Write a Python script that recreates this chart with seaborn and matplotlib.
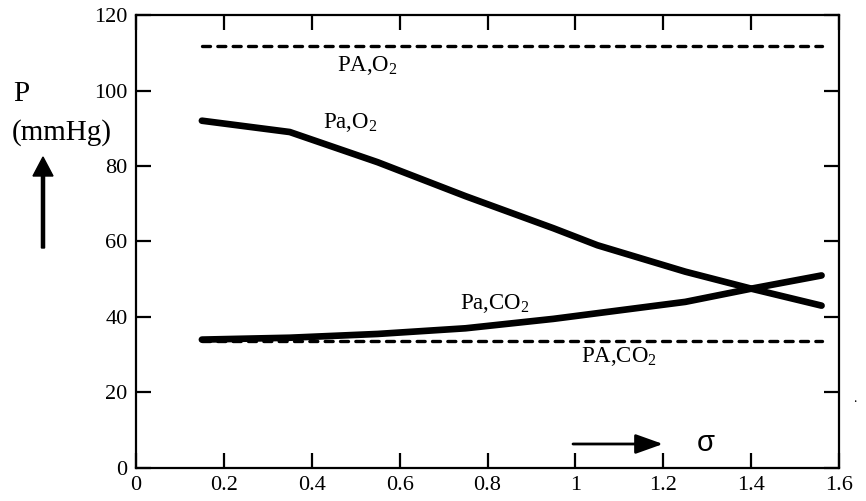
import matplotlib
matplotlib.use("Agg")
import matplotlib.pyplot as plt
import seaborn as sns
import pandas as pd

# Data
sigma_pao2 = [0.15, 0.35, 0.55, 0.75, 0.95, 1.05, 1.25, 1.40, 1.56]
pa_o2 = [92, 89, 81, 72, 63.5, 59, 52, 47.5, 43]
sigma_paco2 = [0.15, 0.35, 0.55, 0.75, 0.95, 1.15, 1.25, 1.40, 1.56]
pa_co2 = [34, 34.5, 35.5, 37, 39.5, 42.5, 44, 47.5, 51]
sigma_alv = [0.15, 1.56]
PA_o2 = [111.8, 111.8]
PA_co2 = [33.5, 33.5]
xticks = [0, 0.2, 0.4, 0.6, 0.8, 1, 1.2, 1.4, 1.6]
xticklabels = ["0", "0.2", "0.4", "0.6", "0.8", "1", "1.2", "1.4", "1.6"]
yticks = [0, 20, 40, 60, 80, 100, 120]

sns.set_theme(style="ticks")
plt.rcParams['font.family'] = ['Liberation Serif', 'DejaVu Serif']
plt.rcParams['text.color'] = 'black'
plt.rcParams['mathtext.fontset'] = 'custom'
plt.rcParams['mathtext.rm'] = 'Liberation Serif'
plt.rcParams['mathtext.it'] = 'Liberation Serif:italic'

fig = plt.figure(figsize=(8.66, 5.01), dpi=100)
ax = fig.add_axes([0.157, 0.066, 0.812, 0.904])

df_o2 = pd.DataFrame({"x": sigma_pao2, "y": pa_o2})
df_co2 = pd.DataFrame({"x": sigma_paco2, "y": pa_co2})
df_Ao2 = pd.DataFrame({"x": sigma_alv, "y": PA_o2})
df_Aco2 = pd.DataFrame({"x": sigma_alv, "y": PA_co2})

sns.lineplot(data=df_o2, x="x", y="y", ax=ax, color="black", lw=4.8,
             solid_capstyle="round", sort=False)
sns.lineplot(data=df_co2, x="x", y="y", ax=ax, color="black", lw=4.8,
             solid_capstyle="round", sort=False)
for d in (df_Ao2, df_Aco2):
    sns.lineplot(data=d, x="x", y="y", ax=ax, color="black", lw=2.4, sort=False)
for line in ax.lines[2:]:
    line.set_dashes([2.4, 2.2])
    line.set_dash_capstyle("round")

ax.set_xlim(0, 1.6)
ax.set_ylim(0, 120)
ax.set_xticks(xticks)
ax.set_xticklabels(xticklabels)
ax.set_yticks(yticks)
ax.set_xlabel("")
ax.set_ylabel("")
for s in ax.spines.values():
    s.set_visible(True)
    s.set_linewidth(1.6)
    s.set_color("black")
ax.tick_params(direction="in", length=11, width=1.6, color="black",
               labelsize=16, top=True, right=True, labelcolor="black")
ax.tick_params(axis="x", pad=6)
ax.tick_params(axis="y", pad=6)
for lab in ax.get_xticklabels() + ax.get_yticklabels():
    lab.set_fontfamily("Liberation Serif")

tfs = 16.5
ax.text(0.457, 106.5, r"$\mathrm{PA{,}O_2}$", fontsize=tfs, ha="left", va="center")
ax.text(0.425, 91.5, r"$\mathrm{Pa{,}O_2}$", fontsize=tfs, ha="left", va="center")
ax.text(0.738, 43.5, r"$\mathrm{Pa{,}CO_2}$", fontsize=tfs, ha="left", va="center")
ax.text(1.013, 29.5, r"$\mathrm{PA{,}CO_2}$", fontsize=tfs, ha="left", va="center")

# axis labels outside
fig.text(13/866, 1 - 94/501, "P", fontsize=21, ha="left", va="center")
fig.text(12/866, 1 - 133/501, "(mmHg)", fontsize=21, ha="left", va="center")
fig.patches.append(matplotlib.patches.FancyArrow(
    43/866, 1 - 248/501, 0, (248-157)/501, width=1.8/501, head_width=20/866,
    head_length=19/501, length_includes_head=True, color="black",
    transform=fig.transFigure, figure=fig))
ax.annotate("", xy=(663/866, 1 - 444/501), xytext=(573/866, 1 - 444/501),
            xycoords="figure fraction", textcoords="figure fraction",
            arrowprops=dict(arrowstyle="-|>,head_length=1.4,head_width=0.5",
                            lw=2, color="black", shrinkA=0, shrinkB=0))
fig.text(706/866, 1 - 443/501, "σ", fontsize=21, ha="center", va="center",
         family="Liberation Sans")
fig.text(855/866, 1 - 398/501, ".", fontsize=10, ha="center", va="center")

fig.savefig("out.png", dpi=100)
